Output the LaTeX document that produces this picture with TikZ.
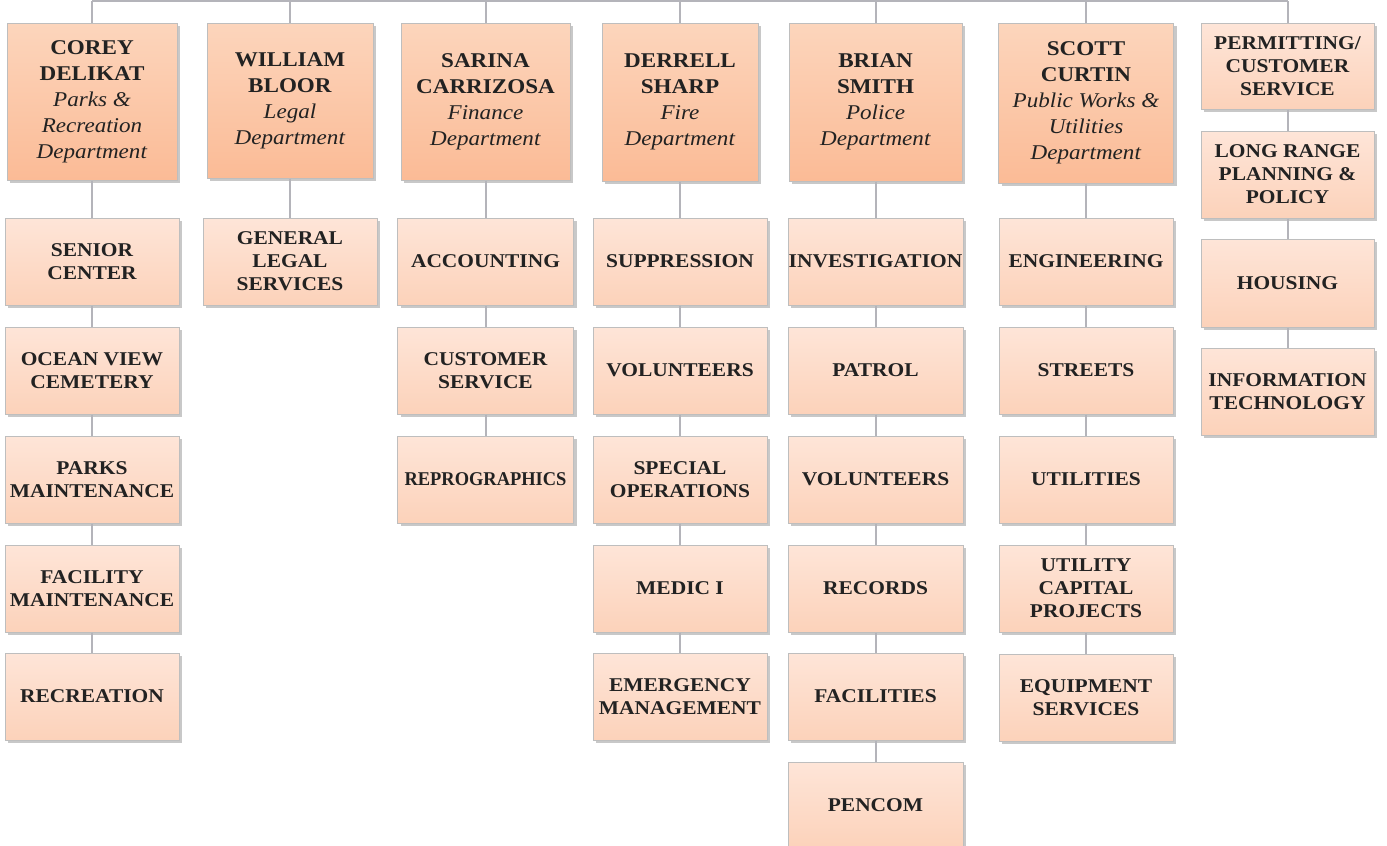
\documentclass[tikz,border=0pt]{standalone}
\usepackage{graphicx}
\usepackage{fontspec}
\setmainfont{Liberation Serif}[FakeStretch=1.1]
\usetikzlibrary{shadows}
\definecolor{linegray}{RGB}{180,180,186}
\definecolor{bordergray}{RGB}{190,190,190}
\definecolor{shadowgray}{RGB}{200,200,200}
\definecolor{headtop}{RGB}{252,213,188}
\definecolor{headbot}{RGB}{251,187,150}
\definecolor{subtop}{RGB}{254,229,216}
\definecolor{subbot}{RGB}{252,210,186}
\definecolor{textdark}{RGB}{34,34,34}
\newcommand{\headfnt}{\fontsize{21}{26}\selectfont}
\newcommand{\subfnt}{\fontsize{19.5}{23}\selectfont\bfseries}
\tikzset{
  conn/.style={draw=linegray, line width=2pt},
  basebox/.style={rectangle, draw=bordergray, line width=1pt, align=center,
    text=textdark, inner sep=0pt,
    general shadow={fill=shadowgray, shadow xshift=3pt, shadow yshift=-3pt}},
  headbox/.style={basebox, top color=headtop, bottom color=headbot, font=\headfnt},
  subbox/.style={basebox, top color=subtop, bottom color=subbot, font=\subfnt},
}
\begin{document}
\begin{tikzpicture}[x=1pt,y=-1pt]
\useasboundingbox (0,0) rectangle (1387,846);
% heads
\node[headbox, minimum width=170pt, minimum height=157pt] (h1) at (92,101.5)
  {\textbf{COREY}\\\textbf{DELIKAT}\\\textit{Parks \&}\\\textit{Recreation}\\\textit{Department}};
\node[headbox, minimum width=166pt, minimum height=155pt] (h2) at (290,100.5)
  {\textbf{WILLIAM}\\\textbf{BLOOR}\\\textit{Legal}\\\textit{Department}};
\node[headbox, minimum width=169pt, minimum height=157pt] (h3) at (485.5,101.5)
  {\textbf{SARINA}\\\textbf{CARRIZOSA}\\\textit{Finance}\\\textit{Department}};
\node[headbox, minimum width=156pt, minimum height=158pt] (h4) at (680,102)
  {\textbf{DERRELL}\\\textbf{SHARP}\\\textit{Fire}\\\textit{Department}};
\node[headbox, minimum width=173pt, minimum height=158pt] (h5) at (875.5,102)
  {\textbf{BRIAN}\\\textbf{SMITH}\\\textit{Police}\\\textit{Department}};
\node[headbox, minimum width=175pt, minimum height=160pt] (h6) at (1086,103)
  {\textbf{SCOTT}\\\textbf{CURTIN}\\\textit{Public Works \&}\\\textit{Utilities}\\\textit{Department}};
% column 7
\node[subbox, minimum width=173pt, minimum height=86pt] (g1) at (1287.5,66) {PERMITTING/\\CUSTOMER\\SERVICE};
\node[subbox, minimum width=173pt, minimum height=87pt] (g2) at (1287.5,174.5) {LONG RANGE\\PLANNING \&\\POLICY};
\node[subbox, minimum width=173pt, minimum height=88pt] (g3) at (1287.5,283) {HOUSING};
\node[subbox, minimum width=173pt, minimum height=87pt] (g4) at (1287.5,391.5) {INFORMATION\\TECHNOLOGY};
% column 1
\tikzset{c1/.style={subbox, minimum width=174pt, minimum height=87pt}}
\node[c1] (a1) at (92,261.5) {SENIOR\\CENTER};
\node[c1] (a2) at (92,370.5) {OCEAN VIEW\\CEMETERY};
\node[c1] (a3) at (92,479.5) {PARKS\\MAINTENANCE};
\node[c1] (a4) at (92,588.5) {FACILITY\\MAINTENANCE};
\node[c1] (a5) at (92,696.5) {RECREATION};
% column 2
\node[subbox, minimum width=174pt, minimum height=87pt] (b1) at (290,261.5) {GENERAL\\LEGAL\\SERVICES};
% column 3
\tikzset{c3/.style={subbox, minimum width=176pt, minimum height=87pt}}
\node[c3] (d1) at (485.5,261.5) {ACCOUNTING};
\node[c3] (d2) at (485.5,370.5) {CUSTOMER\\SERVICE};
\node[c3] (d3) at (485.5,479.5) {\scalebox{0.86}[1]{REPROGRAPHICS}};
% column 4
\tikzset{c4/.style={subbox, minimum width=174pt, minimum height=87pt}}
\node[c4] (e1) at (680,261.5) {SUPPRESSION};
\node[c4] (e2) at (680,370.5) {VOLUNTEERS};
\node[c4] (e3) at (680,479.5) {SPECIAL\\OPERATIONS};
\node[c4] (e4) at (680,588.5) {MEDIC I};
\node[c4] (e5) at (680,696.5) {EMERGENCY\\MANAGEMENT};
% column 5
\tikzset{c5/.style={subbox, minimum width=175pt, minimum height=87pt}}
\node[c5] (f1) at (875.5,261.5) {INVESTIGATION};
\node[c5] (f2) at (875.5,370.5) {PATROL};
\node[c5] (f3) at (875.5,479.5) {VOLUNTEERS};
\node[c5] (f4) at (875.5,588.5) {RECORDS};
\node[c5] (f5) at (875.5,696.5) {FACILITIES};
\node[c5] (f6) at (875.5,805.5) {PENCOM};
% column 6
\tikzset{c6/.style={subbox, minimum width=174pt, minimum height=87pt}}
\node[c6] (k1) at (1086,261.5) {ENGINEERING};
\node[c6] (k2) at (1086,370.5) {STREETS};
\node[c6] (k3) at (1086,479.5) {UTILITIES};
\node[c6] (k4) at (1086,588.5) {UTILITY\\CAPITAL\\PROJECTS};
\node[c6] (k5) at (1086,697.5) {EQUIPMENT\\SERVICES};
% connectors
\coordinate (tl) at (92,1);
\coordinate (tr) at (1287.5,1);
\draw[conn] (tl) -- (tr);
\foreach \h in {h1,h2,h3,h4,h5,h6,g1} \draw[conn] (\h.north) -- (\h.north |- tl);
\draw[conn] (h1.south) -- (a1.north);
\draw[conn] (a1.south) -- (a2.north);
\draw[conn] (a2.south) -- (a3.north);
\draw[conn] (a3.south) -- (a4.north);
\draw[conn] (a4.south) -- (a5.north);
\draw[conn] (h2.south) -- (b1.north);
\draw[conn] (h3.south) -- (d1.north);
\draw[conn] (d1.south) -- (d2.north);
\draw[conn] (d2.south) -- (d3.north);
\draw[conn] (h4.south) -- (e1.north);
\draw[conn] (e1.south) -- (e2.north);
\draw[conn] (e2.south) -- (e3.north);
\draw[conn] (e3.south) -- (e4.north);
\draw[conn] (e4.south) -- (e5.north);
\draw[conn] (h5.south) -- (f1.north);
\draw[conn] (f1.south) -- (f2.north);
\draw[conn] (f2.south) -- (f3.north);
\draw[conn] (f3.south) -- (f4.north);
\draw[conn] (f4.south) -- (f5.north);
\draw[conn] (f5.south) -- (f6.north);
\draw[conn] (h6.south) -- (k1.north);
\draw[conn] (k1.south) -- (k2.north);
\draw[conn] (k2.south) -- (k3.north);
\draw[conn] (k3.south) -- (k4.north);
\draw[conn] (k4.south) -- (k5.north);
\draw[conn] (g1.south) -- (g2.north);
\draw[conn] (g2.south) -- (g3.north);
\draw[conn] (g3.south) -- (g4.north);
\end{tikzpicture}
\end{document}
